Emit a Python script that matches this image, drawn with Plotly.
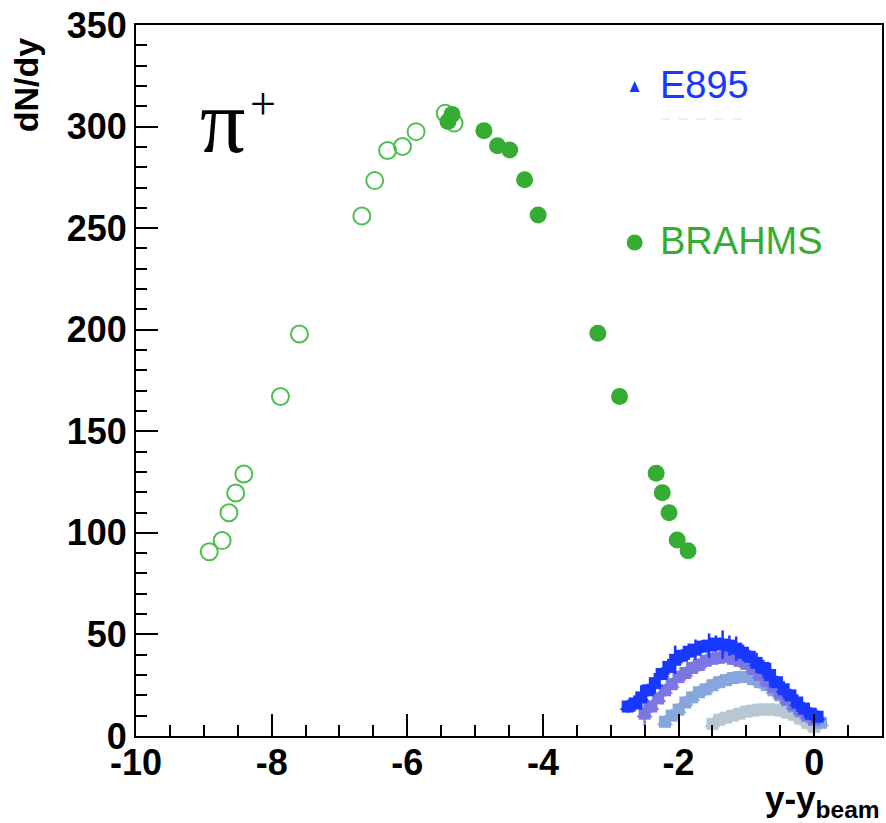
import plotly.graph_objects as go

# ---------------- data ----------------
# BRAHMS measured (filled) points
brahms_x = [-5.40, -5.34, -4.87, -4.67, -4.49, -4.27, -4.07, -3.19, -2.87, -2.33, -2.24, -2.14, -2.02, -1.86]
brahms_y = [302.5, 306.0, 298.0, 290.6, 288.5, 273.8, 256.5, 198.3, 167.1, 129.3, 119.8, 109.9, 96.5, 91.2]

# BRAHMS reflected (open) points
refl_x = [-8.92, -8.73, -8.63, -8.53, -8.41, -7.87, -7.59, -6.67, -6.48, -6.29, -6.07, -5.87, -5.44, -5.31]
refl_y = [90.7, 96.2, 109.9, 119.6, 129.0, 167.1, 197.9, 256.0, 273.4, 288.2, 290.2, 297.5, 306.6, 301.7]

# E895 (four beam energies)
e1_x = [-2.75, -2.65, -2.55, -2.45, -2.35, -2.25, -2.15, -2.05, -1.95, -1.85, -1.75, -1.65, -1.55, -1.45,
        -1.35, -1.25, -1.15, -1.05, -0.95, -0.85, -0.75, -0.65, -0.55, -0.45, -0.35, -0.25, -0.15, -0.05, 0.05]
e1_y = [14.5, 16.0, 19.0, 22.5, 26.0, 30.5, 34.0, 37.5, 39.5, 41.5, 42.5, 44.0, 44.5, 45.5,
        45.0, 44.5, 43.0, 41.0, 39.0, 36.0, 33.5, 30.0, 26.5, 23.0, 20.0, 16.5, 13.5, 11.0, 9.5]
e1_err = [3, 4, 6, 3, 5, 3, 4, 7, 3, 4, 5, 3, 6, 4, 7, 5, 6, 4, 3, 5, 4, 6, 3, 4, 3, 4, 3, 3, 2]

e2_x = [-2.50, -2.40, -2.30, -2.20, -2.10, -2.00, -1.90, -1.80, -1.70, -1.60, -1.50, -1.40, -1.30,
        -1.20, -1.10, -1.00, -0.90, -0.80, -0.70, -0.60, -0.50, -0.40, -0.30, -0.20, -0.10, 0.00]
e2_y = [11.0, 14.5, 18.5, 22.5, 25.5, 29.0, 31.0, 33.5, 35.0, 37.0, 38.0, 38.5, 39.0,
        38.0, 37.0, 35.5, 33.0, 30.0, 27.0, 24.0, 21.0, 18.0, 15.0, 12.5, 10.0, 8.0]
e2_err = [6, 3, 2, 3, 2, 3, 2, 3, 2, 3, 2, 3, 2, 3, 2, 3, 2, 2, 2, 2, 2, 2, 2, 2, 2, 2]

e3_x = [-2.20, -2.10, -2.00, -1.90, -1.80, -1.70, -1.60, -1.50, -1.40, -1.30, -1.20, -1.10,
        -1.00, -0.90, -0.80, -0.70, -0.60, -0.50, -0.40, -0.30, -0.20, -0.10, 0.00, 0.10]
e3_y = [7.0, 10.0, 13.0, 16.5, 19.0, 21.5, 23.0, 25.0, 26.5, 27.5, 28.5, 29.0,
        29.0, 28.0, 26.5, 25.0, 22.5, 20.0, 17.5, 14.5, 12.0, 10.0, 8.0, 6.5]
e3_err = [2, 2, 2, 2, 2, 2, 2, 2, 2, 2, 2, 2, 2, 2, 2, 2, 2, 2, 2, 2, 2, 2, 2, 2]

e4_x = [-1.50, -1.40, -1.30, -1.20, -1.10, -1.00, -0.90, -0.80, -0.70, -0.60, -0.50, -0.40,
        -0.30, -0.20, -0.10, 0.00]
e4_y = [6.0, 8.0, 9.0, 10.0, 11.0, 12.0, 12.5, 13.0, 13.0, 13.0, 12.5, 11.5,
        10.5, 8.5, 6.5, 4.5]
e4_err = [2, 2, 2, 2, 2, 2, 2, 2, 2, 2, 2, 2, 2, 2, 2, 2]

x_tickvals = [-10, -8, -6, -4, -2, 0]
x_ticktext = ["-10", "-8", "-6", "-4", "-2", "0"]
legend_labels = ["E895", "BRAHMS"]

# ---------------- styles ----------------
W, H = 886, 823
ML, MR, MT, MB = 136, 2, 25, 87
GREEN = "#35ad35"
GREEN_OPEN = "#4cc04c"
BLUE = "#1838ff"
E_COLORS = ["#1838ff", "#7b76e4", "#86a6dc", "#b8c7d2"]


def px(x):
    return (x - ML) / (W - ML - MR)


def py(y):
    return (H - MB - y) / (H - MT - MB)


fig = go.Figure()

e_sets = [(e4_x, e4_y, e4_err, E_COLORS[3]),
          (e3_x, e3_y, e3_err, E_COLORS[2]),
          (e2_x, e2_y, e2_err, E_COLORS[1]),
          (e1_x, e1_y, e1_err, E_COLORS[0])]
for xs, ys, errs, col in e_sets:
    # thick band of overlapping markers
    fig.add_trace(go.Scatter(
        x=xs, y=ys, mode="markers",
        marker=dict(symbol="square", size=12, color=col, line=dict(width=0)),
        error_y=dict(type="data", array=errs, visible=True, color=col, thickness=2.5, width=0),
        showlegend=False, hoverinfo="skip"))
    fig.add_trace(go.Scatter(
        x=xs, y=ys, mode="markers",
        marker=dict(symbol="triangle-up", size=14, color=col, line=dict(width=0)),
        showlegend=False, hoverinfo="skip"))

fig.add_trace(go.Scatter(
    x=refl_x, y=refl_y, mode="markers",
    marker=dict(symbol="circle-open", size=17, color=GREEN_OPEN, line=dict(width=2, color=GREEN_OPEN)),
    showlegend=False))
fig.add_trace(go.Scatter(
    x=brahms_x, y=brahms_y, mode="markers",
    marker=dict(symbol="circle", size=17, color=GREEN, line=dict(width=0)),
    showlegend=False))

axis_common = dict(
    showline=True, linecolor="black", linewidth=2, mirror=True,
    ticks="inside", tickcolor="black", tickwidth=2, ticklen=22,
    showgrid=False, zeroline=False,
    tickfont=dict(family="Liberation Sans", size=36, color="black", weight="bold"),
)

fig.update_xaxes(range=[-10, 1], tickmode="array", tickvals=x_tickvals, ticktext=x_ticktext,
                 ticklabelstandoff=-6,
                 minor=dict(ticks="inside", ticklen=11, tickwidth=2, tickcolor="black",
                            tickmode="linear", tick0=0, dtick=0.5, showgrid=False),
                 **axis_common)
fig.update_yaxes(range=[0, 350], tickmode="linear", tick0=0, dtick=50,
                 minor=dict(ticks="inside", ticklen=11, tickwidth=2, tickcolor="black",
                            tickmode="linear", tick0=0, dtick=10, showgrid=False),
                 **axis_common)

annotations = [
    # axis titles
    dict(text="dN/dy", x=px(26), y=py(85), xref="paper", yref="paper",
         xanchor="center", yanchor="middle", textangle=-90, showarrow=False,
         font=dict(family="Liberation Sans", size=34, color="black", weight="bold")),
    dict(text="y-y<sub>beam</sub>", x=px(884), y=py(777), xref="paper", yref="paper",
         xanchor="right", yanchor="top", showarrow=False,
         font=dict(family="Liberation Sans", size=35, color="black", weight="bold")),
    # pi+
    dict(text="π", x=px(198), y=py(121), xref="paper", yref="paper",
         xanchor="left", yanchor="middle", showarrow=False,
         font=dict(family="Liberation Serif", size=90, color="black")),
    dict(text="+", x=px(248), y=py(103), xref="paper", yref="paper",
         xanchor="left", yanchor="middle", showarrow=False,
         font=dict(family="Liberation Serif", size=46, color="black")),
    # legend texts
    dict(text=legend_labels[0], x=px(659), y=py(85), xref="paper", yref="paper",
         xanchor="left", yanchor="middle", showarrow=False,
         font=dict(family="Liberation Sans", size=38, color=BLUE)),
    dict(text=legend_labels[1], x=px(659), y=py(241), xref="paper", yref="paper",
         xanchor="left", yanchor="middle", showarrow=False,
         font=dict(family="Liberation Sans", size=38, color=GREEN)),
]

# legend symbols (layout decorations, paper coordinates)
tri = [(631, 92), (641, 92), (636, 81)]
tri_path = "M {} {} L {} {} L {} {} Z".format(*[v for p in tri for v in (px(p[0]), py(p[1]))])
shapes = [
    dict(type="path", path=tri_path, xref="paper", yref="paper",
         fillcolor=BLUE, line=dict(width=0)),
    dict(type="circle", xref="paper", yref="paper",
         x0=px(628), x1=px(644), y0=py(250.5), y1=py(234.5),
         fillcolor=GREEN, line=dict(width=0)),
    dict(type="line", xref="paper", yref="paper",
         x0=px(662), x1=px(752), y0=py(119), y1=py(119),
         line=dict(color="rgba(240,150,150,0.45)", width=1, dash="dash")),
]

fig.update_layout(
    width=W, height=H,
    margin=dict(l=ML, r=MR, t=MT, b=MB, pad=0),
    paper_bgcolor="white", plot_bgcolor="white",
    showlegend=False,
    annotations=annotations,
    shapes=shapes,
)

fig.write_html("out.html")
